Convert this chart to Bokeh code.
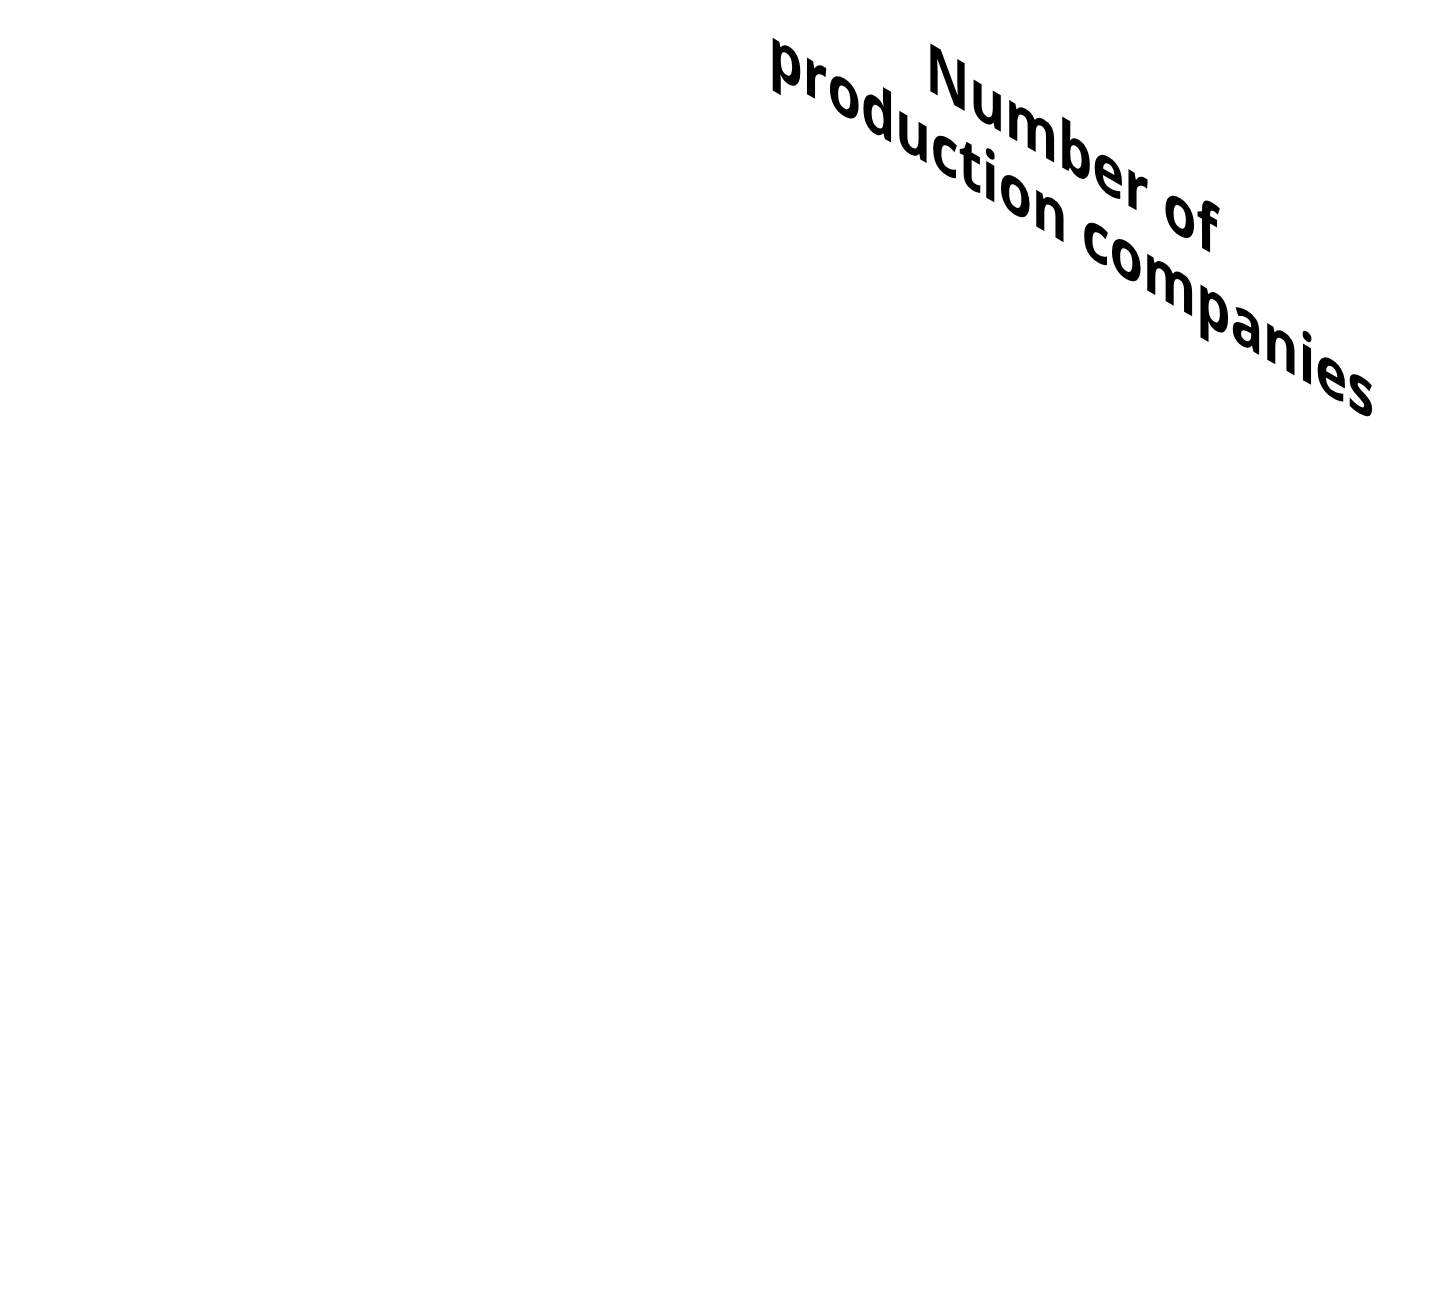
from bokeh.plotting import figure
from bokeh.layouts import column
from bokeh.models import Range1d
from bokeh.core.properties import value
from bokeh.embed import file_html
from bokeh.resources import INLINE

# Title lines of the label (only content of the chart)
lines = ["Number of", "production companies"]

# Side-face skew: text x axis runs ~30 degrees downward, verticals stay vertical
sx, sy = 0.808, 0.466

# Host size of the figure; Bokeh sizes its canvas from the skewed bounding box
W, H = 1000, 20
cw, ch = sx * W, H + sy * W

line_x = [cw / 2, cw / 2]
line_y = [80, 154]

p = figure(width=W, height=H, x_range=Range1d(0, cw), y_range=Range1d(ch, 0),
           output_backend="svg", toolbar_location=None, min_border=0,
           background_fill_color=None, border_fill_color=None)
p.axis.visible = False
p.grid.visible = False
p.outline_line_color = None

p.text(x=line_x, y=line_y, text=lines, text_align="center", text_baseline="alphabetic",
       text_font=value("Open Sans"), text_font_style="bold", text_font_size="67px",
       text_color="black")

tx = 1079 - 8 - sx * cw / 2
ty = 228 - 8 - sy * cw / 2 - line_y[1]
p.styles = {
    "transform": f"translate({tx:.1f}px, {ty:.1f}px) matrix({sx}, {sy}, 0, 1, 0, 0)",
    "transform-origin": "0 0",
}

# plain white page that clips whatever the skewed figure pushes past the window
page = column(p, width=1429, height=1273, styles={"overflow": "hidden", "background": "white"})

open("out.html", "w").write(file_html(page, INLINE))
